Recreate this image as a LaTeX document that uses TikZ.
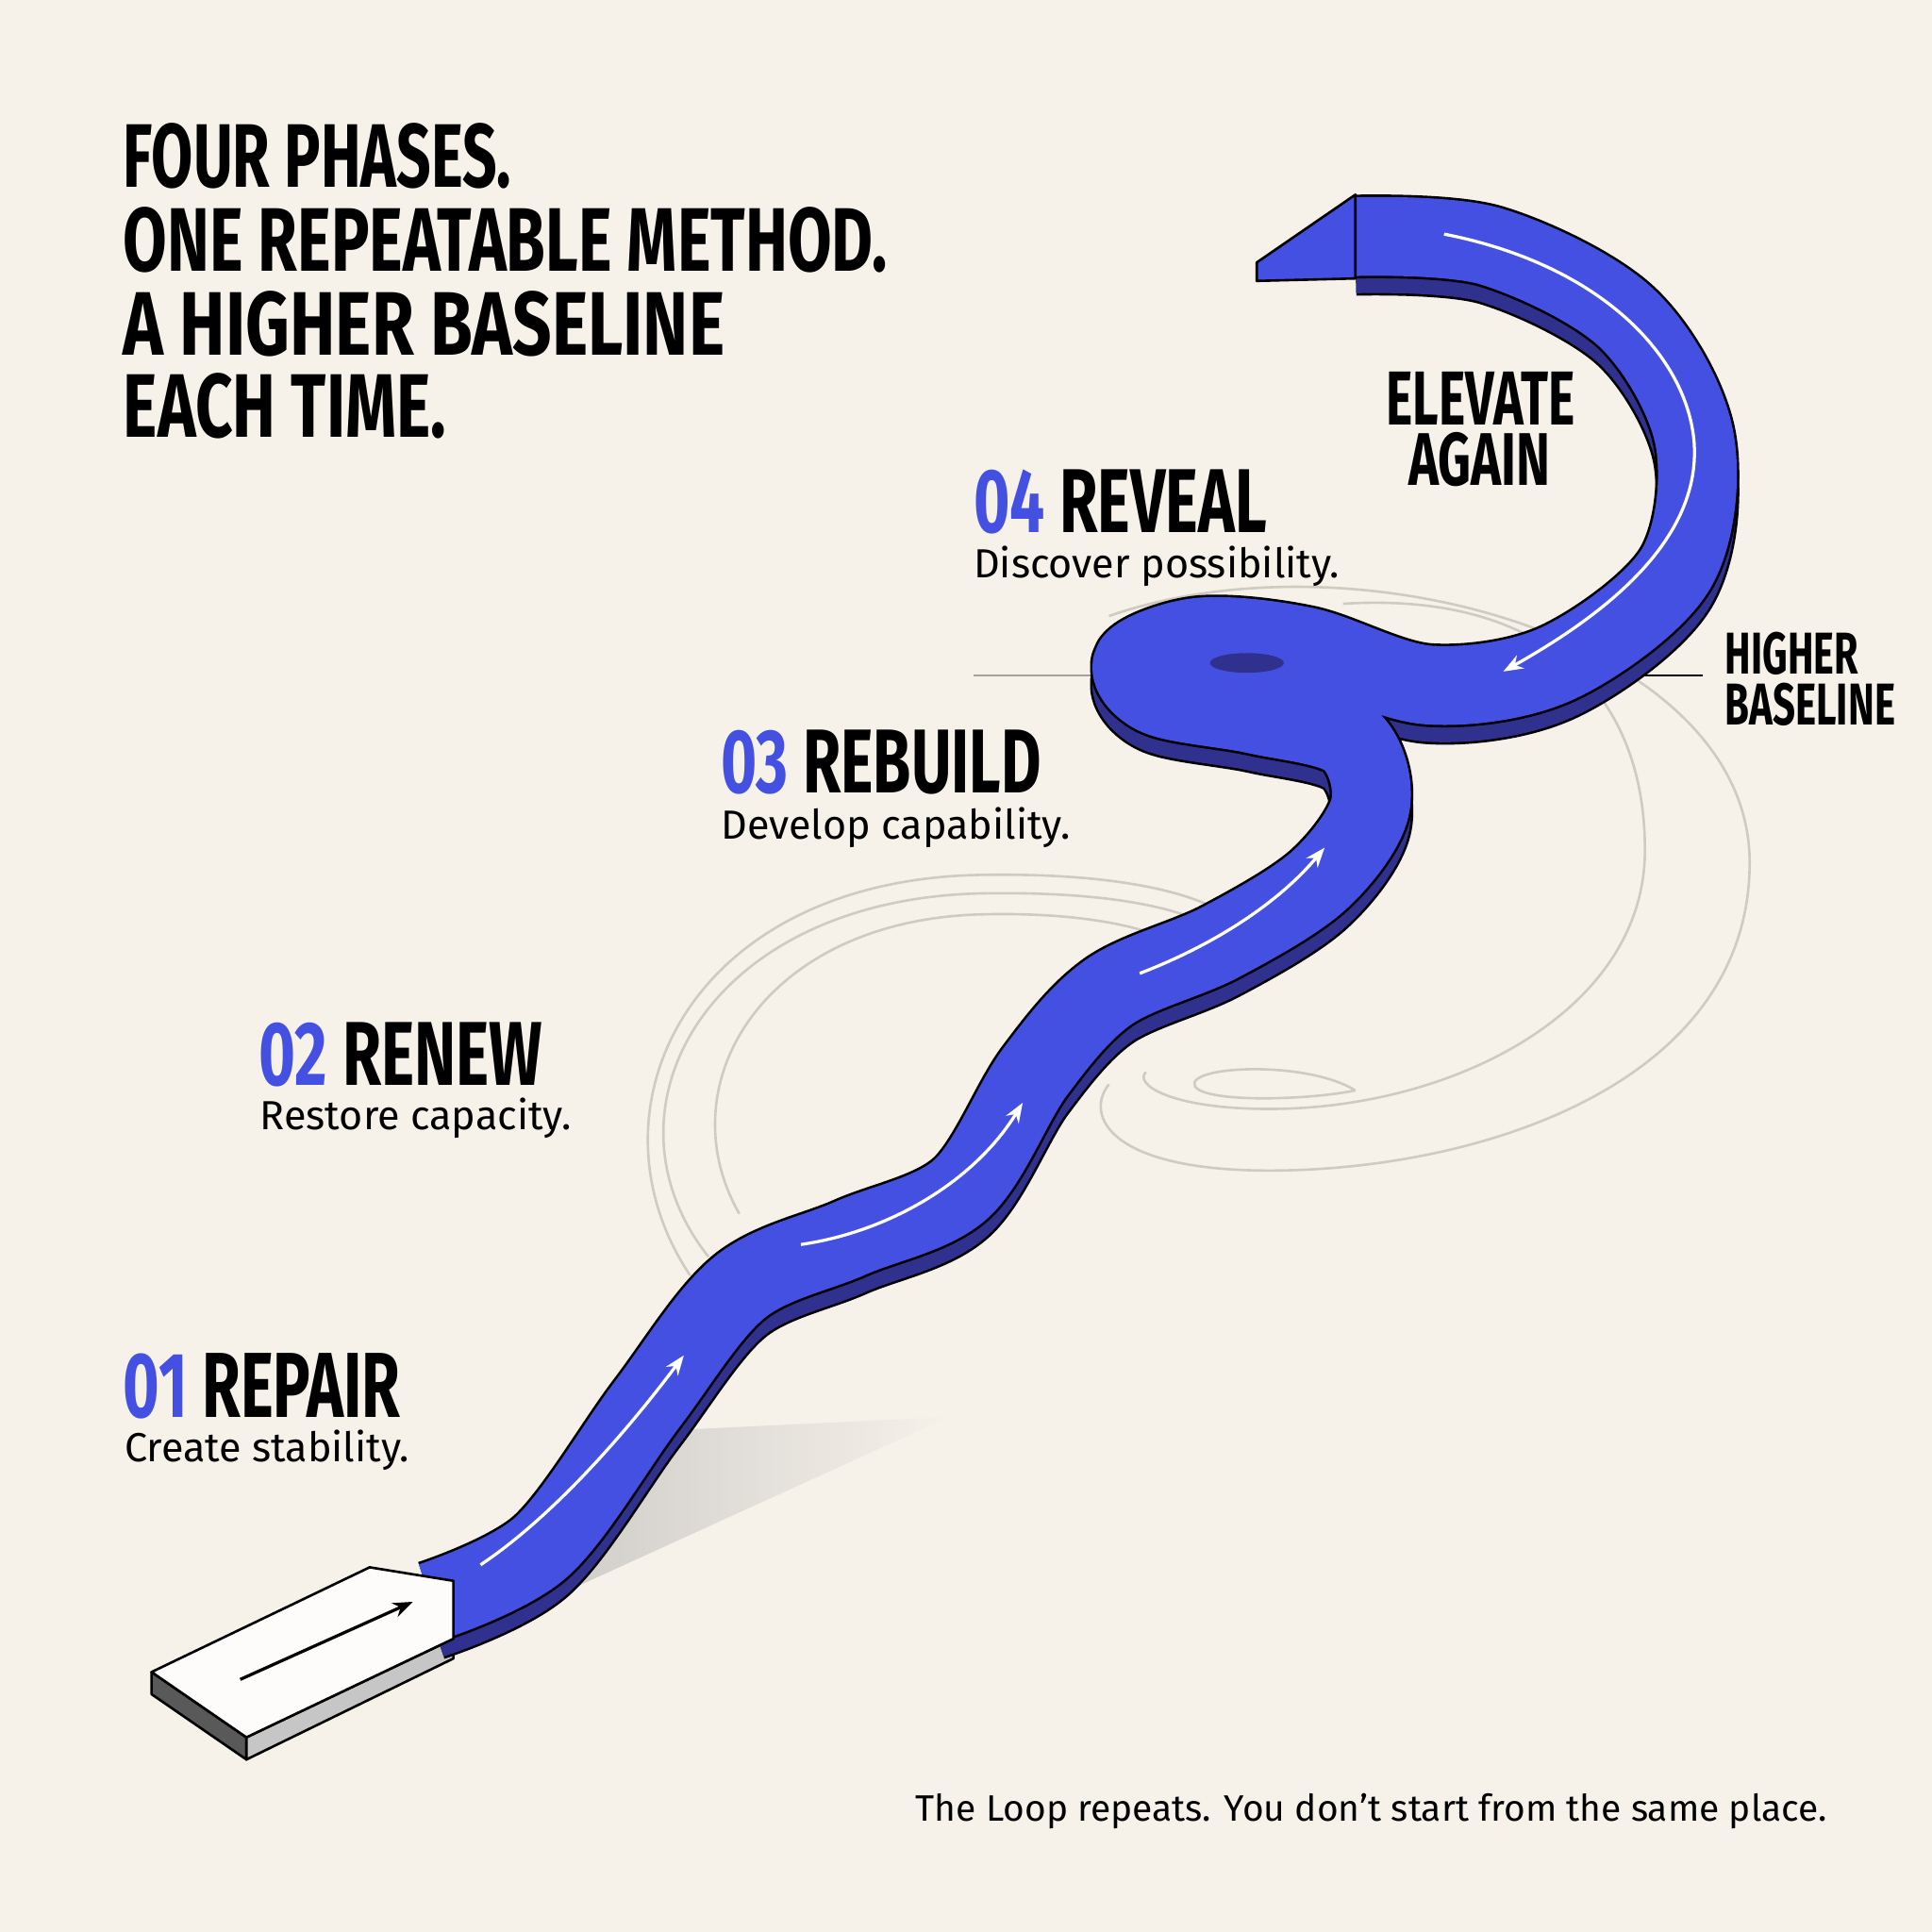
\documentclass[tikz,border=0pt]{standalone}
\usepackage{fontspec}
\setmainfont{Fira Sans}
\usepackage{graphicx}
\usetikzlibrary{arrows.meta}
\definecolor{bg}{HTML}{F6F1E9}
\definecolor{rb}{HTML}{4450E2}
\definecolor{rbd}{HTML}{30318F}
\definecolor{ghost}{HTML}{CFCAC2}
\begin{document}
\begin{tikzpicture}[x=1pt,y=-1pt,
  hd/.style={anchor=north west,inner sep=0,font=\bfseries\fontsize{60}{60}\selectfont},
  sub/.style={anchor=base west,inner sep=0,font=\fontsize{33}{33}\selectfont},
  ghostl/.style={draw=ghost,line width=2pt},
  flow/.style={white,line width=2.5pt,-{Stealth[length=16pt,width=12pt]}}]
\fill[bg] (0,0) rectangle (1568,1568);
\useasboundingbox (0,0) rectangle (1568,1568);
% ghost curves
\draw[ghostl] (560,1035) .. controls (470,900) and (560,712) .. (800,710) .. controls (950,708) and (1010,740) .. (1015,765);
\draw[ghostl] (575,1020) .. controls (480,900) and (575,728) .. (800,725) .. controls (940,723) and (995,750) .. (1000,770);
\draw[ghostl] (600,985) .. controls (540,880) and (620,745) .. (800,742) .. controls (900,740) and (960,760) .. (970,780);
\draw[ghostl] (900,500) .. controls (1100,430) and (1420,520) .. (1420,700) .. controls (1420,880) and (1200,950) .. (1030,950) .. controls (900,950) and (880,905) .. (900,880);
\draw[ghostl] (1090,490) .. controls (1250,480) and (1335,560) .. (1335,690) .. controls (1335,820) and (1180,900) .. (1030,900) .. controls (950,900) and (920,880) .. (930,870);
\draw[ghostl] (1100,885) .. controls (1060,860) and (960,865) .. (970,882) .. controls (980,895) and (1060,893) .. (1100,885);
% shadow
\shade[left color=gray!60,right color=bg,opacity=0.6] (430,1305) -- (560,1160) -- (770,1150) -- cycle;
% baseline lines
\draw[ghost!80!black,line width=1.5pt] (790,548) -- (900,548);
\draw[black,line width=1.5pt] (1295,548) -- (1382,548);
% white block
\filldraw[fill=gray!70!black,draw=black,line width=2pt,line join=round] (123,1357) -- (200,1410) -- (200,1428) -- (123,1375) -- cycle;
\filldraw[fill=gray!45,draw=black,line width=2pt,line join=round] (200,1410) -- (368,1330) -- (368,1346) -- (200,1428) -- cycle;
% ribbon
\def\rib{plot[smooth,tension=0.55] coordinates{(350,1300) (440,1255) (525,1140) (600,1045) (690,1005) (780,965) (840,870) (900,805) (990,765) (1070,715) (1112,655) (1095,600) (1020,580) (940,565) (920,537) (975,517) (1060,525) (1160,556) (1265,538) (1360,462) (1375,355) (1320,258) (1210,200) (1100,192)}}
\begin{scope}[line cap=butt,line join=round]
\draw[black,line width=68pt,shift={(0,14)}] \rib;
\draw[rbd,line width=64pt,shift={(0,14)}] \rib;
\draw[black,line width=68pt] \rib;
\draw[rb,line width=64pt] \rib;
\end{scope}
\filldraw[fill=white!80!bg,draw=black,line width=2pt,line join=round] (123,1357) -- (300,1272) -- (368,1283) -- (368,1330) -- (200,1410) -- cycle;
\draw[black,line width=2.5pt,-{Stealth[length=16pt,width=12pt]}] (195,1363) -- (335,1300);
\fill[rbd] (1012,538) ellipse (30 and 8);
\filldraw[fill=rb,draw=black,line width=2pt,line join=round] (1020,213) -- (1100,158) -- (1100,226) -- (1020,228) -- cycle;
% flow arrows
\draw[flow] (390,1270) .. controls (450,1230) and (510,1160) .. (555,1100);
\draw[flow] (650,1010) .. controls (720,1000) and (790,960) .. (830,895);
\draw[flow] (925,790) .. controls (990,765) and (1040,730) .. (1075,688);
\draw[flow] (1172,190) .. controls (1300,215) and (1370,290) .. (1375,360) .. controls (1380,440) and (1300,500) .. (1220,545);
% heading
\node[hd] (h1) at (100,100) {\resizebox{315pt}{52pt}{FOUR PHASES.}};
\node[hd] (h2) at (100,168) {\resizebox{620pt}{52pt}{ONE REPEATABLE METHOD.}};
\node[hd] (h3) at (100,236) {\resizebox{488pt}{52pt}{A HIGHER BASELINE}};
\node[hd] (h4) at (100,303) {\resizebox{262pt}{52pt}{EACH TIME.}};
% phases
\node[hd] (p1) at (100,1098) {\resizebox{225pt}{52pt}{\textcolor{rb}{01} REPAIR}};
\node[sub] (s1) at (101,1186) {Create stability.};
\node[hd] (p2) at (210,830) {\resizebox{230pt}{51pt}{\textcolor{rb}{02} RENEW}};
\node[sub] (s2) at (211,917) {Restore capacity.};
\node[hd] (p3) at (585,592) {\resizebox{260pt}{51pt}{\textcolor{rb}{03} REBUILD}};
\node[sub] (s3) at (585,681) {Develop capability.};
\node[hd] (p4) at (790,381) {\resizebox{238pt}{51pt}{\textcolor{rb}{04} REVEAL}};
\node[sub] (s4) at (790,469) {Discover possibility.};
\node[hd] (e1) at (1125,302) {\resizebox{153pt}{43pt}{ELEVATE}};
\node[hd] (e2) at (1143,351) {\resizebox{115pt}{43pt}{AGAIN}};
\node[hd] (b1) at (1400,513) {\resizebox{108pt}{34pt}{HIGHER}};
\node[hd] (b2) at (1400,554) {\resizebox{138pt}{34pt}{BASELINE}};
\node[sub,font=\fontsize{29.8}{30}\selectfont] (foot) at (743,1478) {The Loop repeats. You don’t start from the same place.};
\end{tikzpicture}
\end{document}
